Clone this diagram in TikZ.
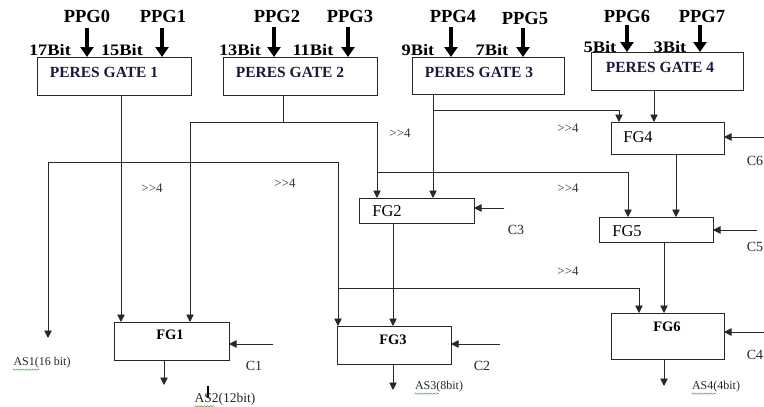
\documentclass[tikz,border=0pt]{standalone}
\usepackage{fontspec}
\setmainfont{Liberation Serif}
\usetikzlibrary{arrows.meta,decorations.pathmorphing}
\definecolor{navy}{RGB}{25,25,60}
\definecolor{wire}{RGB}{40,40,40}
\definecolor{squig}{RGB}{60,160,60}
\newcommand{\hstretch}[1]{\scalebox{1.15}[1]{#1}}
\tikzset{
  box/.style={draw=wire,line width=0.9pt,anchor=north west,inner sep=0pt,outer sep=0pt},
  wireln/.style={draw=wire,line width=0.9pt},
  arr/.style={wireln,-{Triangle[length=7.5pt,width=7.5pt]}},
  big/.style={draw=black,line width=3.2pt,-{Triangle[length=10pt,width=13pt]}},
  ppg/.style={font=\fontsize{18.5}{18}\selectfont\bfseries,inner sep=0pt},
  bitl/.style={font=\fontsize{16}{16}\selectfont\bfseries,inner sep=0pt},
  pgt/.style={font=\fontsize{15.5}{15}\selectfont\bfseries,text=navy,inner sep=0pt},
  fgb/.style={font=\fontsize{14.5}{15}\selectfont\bfseries,inner sep=0pt},
  fgr/.style={font=\fontsize{16.5}{16}\selectfont,inner sep=0pt},
  shl/.style={font=\fontsize{13}{13}\selectfont,text=black!80,inner sep=0pt},
  cl/.style={font=\fontsize{14}{14}\selectfont,text=black!85,inner sep=0pt},
  asl/.style={font=\fontsize{12}{12}\selectfont,text=black!85,inner sep=0pt},
  sq/.style={draw=squig,line width=0.5pt,decorate,decoration={snake,segment length=3pt,amplitude=0.7pt}}
}
\begin{document}
\begin{tikzpicture}[x=1pt,y=-1pt]
\useasboundingbox (0,0) rectangle (764,407);
% boxes
\node[box,minimum width=154pt,minimum height=38pt] (pg1) at (37,57) {};
\node[box,minimum width=154pt,minimum height=38pt] (pg2) at (223,57) {};
\node[box,minimum width=152pt,minimum height=37pt] (pg3) at (412,57) {};
\node[box,minimum width=152pt,minimum height=38pt] (pg4) at (591,52) {};
\node[box,minimum width=113pt,minimum height=32pt] (fg4) at (611,122) {};
\node[box,minimum width=115pt,minimum height=25pt] (fg2) at (359,198) {};
\node[box,minimum width=114pt,minimum height=25pt] (fg5) at (599,217) {};
\node[box,minimum width=115pt,minimum height=38pt] (fg1) at (114,322) {};
\node[box,minimum width=114pt,minimum height=38pt] (fg3) at (337,326) {};
\node[box,minimum width=113pt,minimum height=46pt] (fg6) at (611,313) {};
% box texts
\node[pgt] (t1) at (104,72) {PERES GATE 1};
\node[pgt] (t2) at (290,72) {PERES GATE 2};
\node[pgt] (t3) at (479,72) {PERES GATE 3};
\node[pgt] (t4) at (660,67) {PERES GATE 4};
\node[fgb] (tf1) at (170,335) {FG1};
\node[fgb] (tf3) at (393,340) {FG3};
\node[fgb] (tf6) at (667,327) {FG6};
\node[fgr] (tf4) at (638,137) {FG4};
\node[fgr] (tf5) at (627,231) {FG5};
\node[fgr] (tf2) at (387,211) {FG2};
% PPG inputs
\node[ppg] (p0) at (87,16) {PPG0};
\node[ppg] (p1) at (163,16) {PPG1};
\node[ppg] (p2) at (277,16) {PPG2};
\node[ppg] (p3) at (350,16) {PPG3};
\node[ppg] (p4) at (453,16) {PPG4};
\node[ppg] (p5) at (525,18) {PPG5};
\node[ppg] (p6) at (627,16) {PPG6};
\node[ppg] (p7) at (702,16) {PPG7};
\coordinate (a0) at (87,28);
\coordinate (a1) at (162,28);
\coordinate (a2) at (274,27);
\coordinate (a3) at (348,27);
\coordinate (a4) at (451,27);
\coordinate (a5) at (523,28);
\coordinate (a6) at (627,25);
\coordinate (a7) at (700,25);
\draw[big] (a0) -- (a0 |- pg1.north);
\draw[big] (a1) -- (a1 |- pg1.north);
\draw[big] (a2) -- (a2 |- pg2.north);
\draw[big] (a3) -- (a3 |- pg2.north);
\draw[big] (a4) -- (a4 |- pg3.north);
\draw[big] (a5) -- (a5 |- pg3.north);
\draw[big] (a6) -- (a6 |- pg4.north);
\draw[big] (a7) -- (a7 |- pg4.north);
\node[bitl] (b17) at (50,50) {\hstretch{17Bit}};
\node[bitl] (b15) at (122,50) {\hstretch{15Bit}};
\node[bitl] (b13) at (240,50) {\hstretch{13Bit}};
\node[bitl] (b11) at (313,50) {\hstretch{11Bit}};
\node[bitl] (b9) at (418,50) {\hstretch{9Bit}};
\node[bitl] (b7) at (492,50) {\hstretch{7Bit}};
\node[bitl] (b5) at (600,47) {\hstretch{5Bit}};
\node[bitl] (b3) at (670,47) {\hstretch{3Bit}};
% junction coordinates
\coordinate (o1) at (121,95);
\coordinate (o2) at (283,95);
\coordinate (o3) at (433,94);
\coordinate (o4) at (654,90);
\coordinate (j2) at (283,122);
\coordinate (j2l) at (190,122);
\coordinate (j2r) at (377,122);
\coordinate (k5) at (377,172);
\coordinate (k5r) at (628,172);
\coordinate (j3) at (433,110);
\coordinate (j3r) at (619,110);
\coordinate (h1l) at (48,162);
\coordinate (h1r) at (338,162);
\coordinate (as1e) at (48,338);
\coordinate (k6) at (338,288);
\coordinate (k6r) at (639,288);
\coordinate (f4o) at (676,154);
\coordinate (f5o) at (664,242);
\coordinate (f2o) at (393,223);
\coordinate (f1o) at (164,360);
\coordinate (f1e) at (164,385);
\coordinate (f3o) at (393,364);
\coordinate (f3e) at (393,390);
\coordinate (f6o) at (664,359);
\coordinate (f6e) at (664,386);
\coordinate (c1s) at (273,344);
\coordinate (c2s) at (500,344);
\coordinate (c3s) at (504,208);
\coordinate (c6s) at (764,137);
\coordinate (c5s) at (757,230);
\coordinate (c4s) at (764,332);
\coordinate (s2a) at (208,386);
\coordinate (s2b) at (208,398);
% wires
\draw[arr] (o1) -- (o1 |- fg1.north);
\draw[wireln] (o2) -- (j2);
\draw[wireln] (j2l) -- (j2r);
\draw[arr] (j2l) -- (j2l |- fg1.north);
\draw[arr] (j2r) -- (j2r |- fg2.north);
\draw[arr] (k5) -- (k5r) -- (k5r |- fg5.north);
\draw[arr] (o3) -- (o3 |- fg2.north);
\draw[arr] (j3) -- (j3r) -- (j3r |- fg4.north);
\draw[arr] (o4) -- (o4 |- fg4.north);
\draw[wireln] (h1l) -- (h1r);
\draw[arr] (h1l) -- (as1e);
\draw[arr] (h1r) -- (h1r |- fg3.north);
\draw[arr] (k6) -- (k6r) -- (k6r |- fg6.north);
\draw[arr] (f4o) -- (f4o |- fg5.north);
\draw[arr] (f5o) -- (f5o |- fg6.north);
\draw[arr] (f2o) -- (f2o |- fg3.north);
\draw[arr] (f1o) -- (f1e);
\draw[arr] (f3o) -- (f3e);
\draw[arr] (f6o) -- (f6e);
\draw[arr] (c1s) -- (c1s -| fg1.east);
\draw[arr] (c2s) -- (c2s -| fg3.east);
\draw[arr] (c3s) -- (c3s -| fg2.east);
\draw[arr] (c6s) -- (c6s -| fg4.east);
\draw[arr] (c5s) -- (c5s -| fg5.east);
\draw[arr] (c4s) -- (c4s -| fg6.east);
\draw[draw=black,line width=1.2pt] (s2a) -- (s2b);
% shift labels
\node[shl] (s1) at (152,188) {{>}{>}4};
\node[shl] (s2) at (285,183) {{>}{>}4};
\node[shl] (s3) at (400,133) {{>}{>}4};
\node[shl] (s4) at (568,128) {{>}{>}4};
\node[shl] (s5) at (568,188) {{>}{>}4};
\node[shl] (s6) at (568,271) {{>}{>}4};
% C labels
\node[cl] (l1) at (254,366) {C1};
\node[cl] (l2) at (482,366) {C2};
\node[cl] (l3) at (516,230) {C3};
\node[cl] (l5) at (755,247) {C5};
\node[cl] (l6) at (755,161) {C6};
\node[cl] (l4) at (755,355) {C4};
% outputs
\node[asl] (as1) at (42,363) {AS1(16 bit)};
\node[asl,font=\fontsize{13.5}{13}\selectfont] (as2) at (225,399) {AS2(12bit)};
\node[asl] (as3) at (439,387) {AS3(8bit)};
\node[asl] (as4) at (716,387) {AS4(4bit)};
\draw[sq] (as1.south west) ++(0,1) -- ++(26,0);
\draw[sq] (as2.south west) ++(0,1) -- ++(20,0);
\draw[sq] (as3.south west) ++(0,1) -- ++(24,0);
\draw[sq] (as4.south west) ++(0,1) -- ++(24,0);
\end{tikzpicture}
\end{document}
